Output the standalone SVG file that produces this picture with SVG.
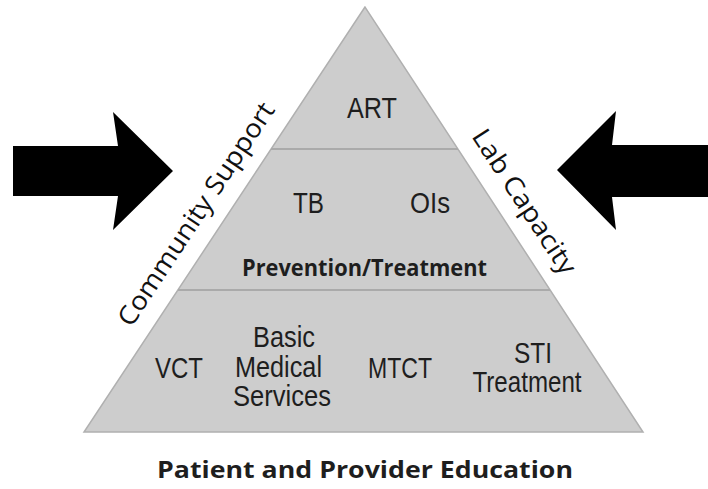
<svg xmlns="http://www.w3.org/2000/svg" width="708" height="489" viewBox="0 0 708 489">
<style>
.tier{fill:#cdcdcd;stroke:none}
.edge{fill:none;stroke:#b0b0b0;stroke-width:1.5;stroke-linejoin:miter}
.div{stroke:#aaaaaa;stroke-width:2}
.t{font-family:"Liberation Sans",Arial,sans-serif;font-size:30px;fill:#1e1e1e;text-anchor:middle}
.b{font-family:"Open Sans","Noto Sans",sans-serif;font-weight:700;font-size:23px;fill:#1e1e1e;text-anchor:middle}
.r{font-family:"Open Sans","Noto Sans",sans-serif;font-size:26px;fill:#111;text-anchor:middle}
.arrow{fill:#000}
</style>
<rect width="708" height="489" fill="#fff"/>
<g id="pyramid">
<polygon class="tier" points="365,7 84,432 643,432"/>
<polygon class="edge" points="365,7 84,432 643,432"/>
<line class="div" x1="271" y1="149" x2="458" y2="149"/>
<line class="div" x1="178" y1="290" x2="550" y2="290"/>
</g>
<g id="art"><text class="t" x="372" y="118" textLength="50" lengthAdjust="spacingAndGlyphs">ART</text></g>
<g id="tb"><text class="t" x="308.5" y="213" textLength="31" lengthAdjust="spacingAndGlyphs">TB</text></g>
<g id="ois"><text class="t" x="430" y="213" textLength="40" lengthAdjust="spacingAndGlyphs">OIs</text></g>
<g id="prevention"><text class="b" x="364.5" y="276" textLength="245" lengthAdjust="spacingAndGlyphs">Prevention/Treatment</text></g>
<g id="vct"><text class="t" x="179" y="378" textLength="48" lengthAdjust="spacingAndGlyphs">VCT</text></g>
<g id="basic">
<text class="t" x="284" y="347" textLength="62" lengthAdjust="spacingAndGlyphs">Basic</text>
<text class="t" x="278.5" y="377" textLength="87" lengthAdjust="spacingAndGlyphs">Medical</text>
<text class="t" x="282" y="406" textLength="98" lengthAdjust="spacingAndGlyphs">Services</text>
</g>
<g id="mtct"><text class="t" x="400" y="378" textLength="64" lengthAdjust="spacingAndGlyphs">MTCT</text></g>
<g id="sti">
<text class="t" x="533" y="363" textLength="38" lengthAdjust="spacingAndGlyphs">STI</text>
<text class="t" x="527" y="392" textLength="109" lengthAdjust="spacingAndGlyphs">Treatment</text>
</g>
<g id="community"><text class="r" transform="translate(203.4,218.9) rotate(-56.53)" x="0" y="0" textLength="262" lengthAdjust="spacingAndGlyphs">Community Support</text></g>
<g id="lab"><text class="r" transform="translate(516.9,206.5) rotate(56.81)" x="0" y="0" textLength="168" lengthAdjust="spacingAndGlyphs">Lab Capacity</text></g>
<g id="education"><text class="b" x="365" y="478" textLength="416" lengthAdjust="spacingAndGlyphs">Patient and Provider Education</text></g>
<g id="arrows">
<polygon class="arrow" points="13,146 118,146 113,112 173,171 113,230 118,196 13,196"/>
<polygon class="arrow" points="708,145 612,145 616,111 557,170 616,230 612,197 708,197"/>
</g>
</svg>
